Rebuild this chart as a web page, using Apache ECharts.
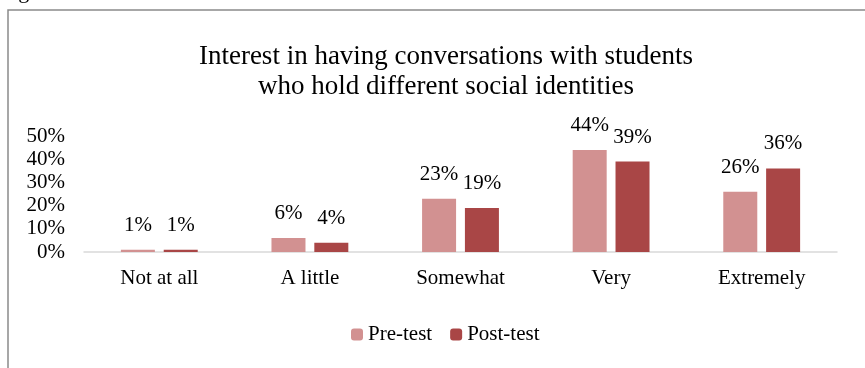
<!DOCTYPE html>
<html style="height: 100%">
<head>
    <meta charset="utf-8">
    <script type="text/javascript" src="https://cdn.jsdelivr.net/npm/echarts@6.0.0/dist/echarts.min.js"></script>
</head>
<body style="height: 100%; margin: 0; background-color: #fff;">
    <div id="main" style="width: 865px;height: 368px;"></div>
<script>
// 数据
var categories = ['Not at all', 'A little', 'Somewhat', 'Very', 'Extremely'];
var preTest = [1, 6, 23, 44, 26];
var postTest = [1, 4, 19, 39, 36];
var yTicks = [0, 10, 20, 30, 40, 50];

var chartDom = document.getElementById('main');
var myChart = echarts.init(chartDom);
var font = '"Liberation Serif", "Times New Roman", serif';
var option;

option = {
    animation: false,
    textStyle: { fontFamily: font },
    title: {
        text: 'Interest in having conversations with students\nwho hold different social identities',
        left: 441,
        textAlign: 'center',
        top: 37,
        textStyle: {
            fontFamily: font,
            fontWeight: 'normal',
            fontSize: 27,
            lineHeight: 30,
            color: '#000'
        }
    },
    graphic: [
        { //外框
            type: 'rect',
            shape: { x: 8, y: 10, width: 880, height: 400 },
            style: { fill: 'none', stroke: '#8a8a8a', lineWidth: 1.5 },
            silent: true
        },
        {
            type: 'text',
            left: 0,
            top: -19,
            style: { text: 'Figure 4.', font: '22px ' + font, fill: '#000' }
        }
    ],
    legend: {
        data: ['Pre-test', 'Post-test'],
        left: 346,
        top: 319,
        itemWidth: 12,
        itemHeight: 12,
        itemGap: 18,
        textStyle: { fontFamily: font, fontSize: 21, color: '#000' }
    },
    grid: {
        left: 84,
        right: 28,
        top: 136,
        bottom: 116
    },
    xAxis: {
        type: 'category',
        data: categories,
        axisTick: { show: false },
        axisLine: { lineStyle: { color: '#d9d9d9', width: 1.5 } },
        axisLabel: { fontFamily: font, fontSize: 21, color: '#000', margin: 16 }
    },
    yAxis: {
        type: 'value',
        min: yTicks[0],
        max: yTicks[yTicks.length - 1],
        interval: 10,
        splitLine: { show: false },
        axisLine: { show: false },
        axisLabel: {
            fontFamily: font, fontSize: 21, color: '#000', margin: 19,
            formatter: '{value}%'
        }
    },
    series: [
        {
            name: 'Pre-test',
            type: 'bar',
            data: preTest,
            barWidth: 34,
            barGap: '26%',
            itemStyle: { color: '#d29191' },
            label: {
                show: true, position: 'top', distance: 14,
                formatter: '{c}%', fontFamily: font, fontSize: 21, color: '#000'
            }
        },
        {
            name: 'Post-test',
            type: 'bar',
            data: postTest,
            barWidth: 34,
            itemStyle: { color: '#a94646' },
            label: {
                show: true, position: 'top', distance: 14,
                formatter: '{c}%', fontFamily: font, fontSize: 21, color: '#000'
            }
        }
    ]
};

option && myChart.setOption(option);
</script>
</body>
</html>
